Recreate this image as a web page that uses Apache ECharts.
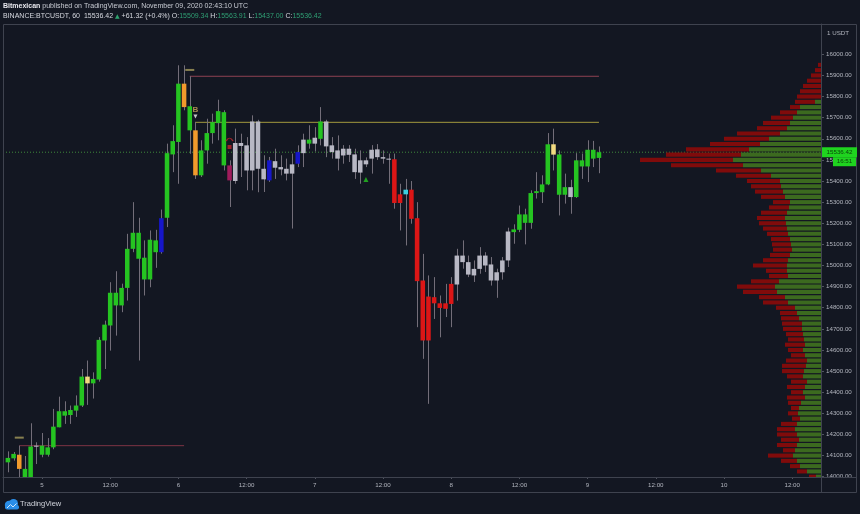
<!DOCTYPE html>
<html><head><meta charset="utf-8">
<script src="https://cdn.jsdelivr.net/npm/echarts@6/dist/echarts.min.js"></script>
<style>html,body{margin:0;padding:0;background:#131722;}#c{width:860px;height:514px;}</style>
</head><body><div id="c"></div><script>
// ---- candle data (hours since Nov 5 00:00 UTC) ----
const hours = [-6,-5,-4,-3,-2,-1,0,1,2,3,4,5,6,7,8,9,10,11,12,13,14,15,16,17,18,19,20,21,22,23,24,25,26,27,28,29,30,31,32,33,34,35,36,37,38,39,40,41,42,43,44,45,46,47,48,49,50,51,52,53,54,55,56,57,58,59,60,61,62,63,64,65,66,67,68,69,70,71,72,73,74,75,76,77,78,79,80,81,82,83,84,85,86,87,88,89,90,91,92,93,94,95,96,97,98];
const opens = [14068,14087,14104,13995,13990,14142,14104,14104,14139,14234,14289,14292,14313,14337,14474,14442,14460,14645,14716,14811,14811,14894,15079,15032,14934,14934,15063,15224,15226,15526,15585,15861,15640,15640,15427,15545,15627,15674,15474,15474,15400,15580,15569,15450,15682,15458,15498,15463,15466,15458,15435,15537,15532,15577,15605,15600,15682,15569,15545,15521,15553,15526,15440,15498,15506,15550,15513,15506,15503,15337,15337,15359,15224,14929,14853,14850,14821,14821,14913,14910,15047,15016,14953,14984,15047,15005,14929,14968,15024,15158,15169,15242,15202,15343,15347,15384,15574,15526,15335,15371,15324,15469,15469,15548,15509.34];
const closes = [14089,14108,14037,14037,14143,14147,14147,14139,14237,14310,14310,14316,14337,14474,14442,14463,14648,14720,14871,14871,14894,15079,15155,15155,15037,15122,15119,15063,15532,15589,15861,15750,15754,15427,15545,15627,15679,15731,15726,15403,15580,15566,15450,15682,15458,15408,15403,15494,15455,15435,15479,15482,15596,15596,15577,15682,15564,15537,15506,15553,15524,15442,15498,15479,15548,15513,15506,15501,15296,15296,15359,15221,14926,14645,14645,14821,14799,14795,14818,15047,15016,14957,14984,15047,15000,14929,14968,15024,15161,15171,15242,15202,15343,15352,15384,15574,15525,15335,15371,15324,15498,15498,15548,15506,15536.42];
const lows = [14021,14076,13990,13990,13985,14060,14092,14095,14130,14234,14250,14250,14283,14330,14340,14370,14450,14510,14597,14668,14779,14834,15063,14550,14858,14897,14989,15056,15182,15442,15387,15735,15529,15410,15419,15482,15577,15593,15450,15277,15387,15419,15356,15356,15347,15348,15396,15410,15427,15403,15175,15466,15466,15553,15540,15569,15513,15506,15450,15482,15490,15410,15387,15466,15435,15500,15482,15387,15269,15166,15095,15198,14708,14558,14345,14747,14660,14756,14708,14834,14985,14945,14922,14961,14969,14905,14847,14933,14993,15103,15158,15100,15174,15317,15296,15380,15450,15237,15293,15245,15320,15410,15395,15466,15437];
const highs = [14120,14117,14147,14098,14253,14163,14207,14183,14321,14379,14357,14337,14385,14510,14550,14494,14661,14739,14921,14973,14914,15150,15300,15226,15119,15166,15169,15265,15577,15664,15948,15948,15896,15680,15593,15695,15719,15785,15735,15498,15648,15624,15608,15711,15690,15522,15514,15553,15522,15506,15530,15569,15624,15664,15655,15750,15690,15608,15616,15570,15570,15553,15545,15512,15570,15575,15545,15530,15530,15387,15410,15400,15300,15055,14953,14945,14858,14913,14945,15079,15119,15047,15024,15087,15063,15040,14985,15040,15179,15195,15284,15269,15356,15442,15427,15627,15648,15545,15435,15406,15532,15530,15593,15590,15563.91];
const candleColors = ['G','G','O','G','G','W','G','G','G','G','G','G','G','G','Y','G','G','G','G','G','G','G','G','G','G','G','G','B','G','G','G','O','G','O','G','G','G','G','G','M','W','W','W','W','W','W','B','W','W','W','W','B','W','G','W','G','W','W','W','W','W','W','W','W','W','W','W','W','R','R','C','R','R','R','R','R','R','R','R','W','W','W','W','W','W','W','W','W','W','G','G','G','G','G','G','G','Y','G','G','W','G','G','G','G','G'];

// ---- volume profile rows (price, up volume, down volume) ----
const profilePrices = [15950,15925,15900,15875,15850,15825,15800,15775,15750,15725,15700,15675,15650,15625,15600,15575,15550,15525,15500,15475,15450,15425,15400,15375,15350,15325,15300,15275,15250,15225,15200,15175,15150,15125,15100,15075,15050,15025,15000,14975,14950,14925,14900,14875,14850,14825,14800,14775,14750,14725,14700,14675,14650,14625,14600,14575,14550,14525,14500,14475,14450,14425,14400,14375,14350,14325,14300,14275,14250,14225,14200,14175,14150,14125,14100,14075,14050,14025,14000];
const upVol = [0,0,0,0,0,0,0,6,21,24,28,31,34,41,52,61,72,80,88,78,60,50,41,40,38,36,31,32,34,36,35,34,33,31,30,29,31,33,34,34,33,42,46,44,36,33,26,24,22,19,19,18,17,16,18,16,14,15,17,18,14,16,18,16,20,22,23,21,24,26,24,22,24,26,28,24,21,14,5];
const downVol = [3,6,10,14,18,21,24,20,10,17,22,27,30,43,45,50,63,75,93,72,45,35,33,30,28,24,17,20,26,28,27,24,21,19,19,19,20,25,34,21,19,28,38,34,26,25,19,17,18,20,19,17,16,20,15,14,21,24,22,16,16,18,12,18,13,8,10,8,16,18,20,18,20,12,25,16,10,10,7];
const PROFILE_STEP = 25;

// ---- levels & annotations ----
const levelLines = [
  {from: 26, to: 98, price: 15896, color: '#8e4152'},
  {from: 27, to: 98, price: 15678, color: '#a39a3e'},
  {from: -4, to: 25, price: 14147, color: '#7c3444'}
];
const lastClose = 15536.42;

// ---- axis ticks ----
const xTickHours = [0,12,24,36,48,60,72,84,96,108,120,132];
const xTickLabels = ['5','12:00','6','12:00','7','12:00','8','12:00','9','12:00','10','12:00'];
const yTickValues = [14000,14100,14200,14300,14400,14500,14600,14700,14800,14900,15000,15100,15200,15300,15400,15500,15600,15700,15800,15900,16000];

const X_MIN = -6.862, X_MAX = 137.07, Y_MIN = 13998.6, Y_MAX = 16143.5;
const PALETTE = {G:'#25c421', O:'#f19a2c', W:'#b8b8c4', B:'#1616c9', R:'#dc1616', Y:'#f1da80', C:'#3ccfe0', M:'#a01c5c'};
const WICK = '#736e79';
const FONT = 'Liberation Sans';

const chart = echarts.init(document.getElementById('c'), null, {renderer: 'canvas'});

function clipOf(params) {
  const cs = params.coordSys;
  return {type: 'rect', shape: {x: cs.x, y: cs.y, width: cs.width, height: cs.height}};
}

function renderCandle(params, api) {
  const x = api.value(0), o = api.value(1), c = api.value(2), lo = api.value(3), hi = api.value(4);
  const col = PALETTE[candleColors[params.dataIndex]];
  const pTop = api.coord([x, Math.max(o, c)]);
  const pBot = api.coord([x, Math.min(o, c)]);
  const pHi = api.coord([x, hi]);
  const pLo = api.coord([x, lo]);
  const w = api.size([1, 0])[0] * 0.8;
  const bh = Math.max(1, pBot[1] - pTop[1]);
  const cx = Math.round(pHi[0]) + 0.5;
  return {type: 'group', clipPath: clipOf(params), children: [
    {type: 'line', shape: {x1: cx, y1: pHi[1], x2: cx, y2: pLo[1]}, style: {stroke: WICK, lineWidth: 1}},
    {type: 'rect', shape: {x: pTop[0] - w / 2, y: pTop[1], width: w, height: bh}, style: {fill: col}}
  ]};
}

function renderProfile(params, api) {
  const p = api.value(0), up = api.value(1), dn = api.value(2);
  const rowPx = Math.abs(api.size([0, PROFILE_STEP])[1]);
  const y = api.coord([0, p])[1];
  const x0 = api.coord([0, p])[0];
  const x1 = api.coord([up, p])[0];
  const x2 = api.coord([up + dn, p])[0];
  const hgt = Math.max(1, rowPx - 1.2);
  return {type: 'group', clipPath: clipOf(params), children: [
    {type: 'rect', shape: {x: x2, y: y - hgt / 2, width: x1 - x2, height: hgt}, style: {fill: '#800b0b'}},
    {type: 'rect', shape: {x: x1, y: y - hgt / 2, width: x0 - x1, height: hgt}, style: {fill: '#3c6a1f'}}
  ]};
}

const levelSeries = levelLines.map(l => ({
  type: 'line', xAxisIndex: 0, yAxisIndex: 0, symbol: 'none', silent: true, z: 2,
  data: [[l.from, l.price], [l.to, l.price]],
  lineStyle: {color: l.color, width: 1}
}));

const option = {
  backgroundColor: '#131722',
  animation: false,
  grid: {left: 3, top: 24, right: 39, bottom: 37, containLabel: false},
  xAxis: [
    {type: 'value', gridIndex: 0, min: X_MIN, max: X_MAX, position: 'bottom',
     axisLine: {show: true, onZero: false, lineStyle: {color: '#3f434f'}},
     axisTick: {show: true, customValues: xTickHours, length: 2, lineStyle: {color: '#50545f'}},
     axisLabel: {show: true, customValues: xTickHours, color: '#b2b5be', fontSize: 6.2, fontFamily: FONT, margin: 5,
       formatter: v => xTickLabels[xTickHours.indexOf(Math.round(v))] || ''},
     splitLine: {show: false}},
    {type: 'value', gridIndex: 0, min: 0, max: 818, inverse: true, show: false}
  ],
  yAxis: [
    {type: 'value', gridIndex: 0, min: Y_MIN, max: Y_MAX, position: 'right',
     axisLine: {show: true, onZero: false, lineStyle: {color: '#3f434f'}},
     axisTick: {show: true, customValues: yTickValues, length: 3, lineStyle: {color: '#50545f'}},
     axisLabel: {show: true, customValues: yTickValues, color: '#b2b5be', fontSize: 6.2, fontFamily: FONT, margin: 5,
       formatter: v => v.toFixed(2)},
     splitLine: {show: false}}
  ],
  series: [
    {type: 'line', symbol: 'none', silent: true, z: 1,
     data: [[X_MIN, lastClose], [X_MAX, lastClose]],
     lineStyle: {color: '#3f8a3a', width: 1, type: [1, 2]}},
    {type: 'custom', xAxisIndex: 1, yAxisIndex: 0, z: 2, silent: true,
     renderItem: renderProfile, encode: {x: [1, 2], y: 0},
     data: profilePrices.map((p, i) => [p, upVol[i], downVol[i]])},
    ...levelSeries,
    {type: 'custom', xAxisIndex: 0, yAxisIndex: 0, z: 4, silent: true,
     renderItem: renderCandle, encode: {x: 0, y: [1, 2, 3, 4]},
     data: hours.map((h, i) => [h, opens[i], closes[i], lows[i], highs[i]])},
    {type: 'scatter', z: 5, silent: true, symbol: 'rect', symbolSize: [9, 2],
     itemStyle: {color: '#a59b5c'}, data: [[-4, 14185], [26, 15926]]},
    {type: 'scatter', z: 5, silent: true, symbolSize: 0,
     label: {show: true, formatter: 'B', color: '#cfa95c', fontSize: 8, fontWeight: 'bold', fontFamily: FONT, position: 'inside'},
     data: [[27, 15737]]},
    {type: 'scatter', z: 5, silent: true, symbol: 'triangle', symbolRotate: 180, symbolSize: 4,
     itemStyle: {color: '#f2f2f2'}, data: [[27, 15706]]},
    {type: 'scatter', z: 5, silent: true, symbol: 'rect', symbolSize: 4,
     itemStyle: {color: '#c0262a'}, data: [[33, 15561]]},
    {type: 'scatter', z: 5, silent: true, symbol: 'path://M0 8 Q 10 -4 20 8', symbolSize: [7, 3],
     itemStyle: {color: 'rgba(0,0,0,0)', borderColor: '#c0262a', borderWidth: 1}, data: [[33, 15596]]},
    {type: 'scatter', z: 5, silent: true, symbol: 'triangle', symbolSize: 5,
     itemStyle: {color: '#25c421'}, data: [[57, 15407]]}
  ]
};
chart.setOption(option);

const yPx = chart.convertToPixel({yAxisIndex: 0}, lastClose);
const frameCol = '#3f434f';
chart.setOption({graphic: [
  {type: 'rect', z: 100, silent: true, shape: {x: 3.5, y: 24.5, width: 853, height: 468}, style: {fill: null, stroke: frameCol, lineWidth: 1}},
  {type: 'line', z: 100, silent: true, shape: {x1: 821.5, y1: 24, x2: 821.5, y2: 493}, style: {stroke: frameCol, lineWidth: 1}},
  {type: 'line', z: 100, silent: true, shape: {x1: 3, y1: 477.5, x2: 857, y2: 477.5}, style: {stroke: frameCol, lineWidth: 1}},
  {type: 'text', z: 100, silent: true, x: 827, y: 30, style: {text: '1 USDT', fill: '#b2b5be', fontSize: 6.2, fontFamily: FONT}},
  {type: 'rect', z: 100, silent: true, shape: {x: 822, y: yPx - 5, width: 35, height: 10}, style: {fill: '#1fd41f'}},
  {type: 'text', z: 101, silent: true, x: 839.5, y: yPx, style: {text: lastClose.toFixed(2), fill: '#0b430b', fontSize: 6.2, fontFamily: FONT, align: 'center', verticalAlign: 'middle'}},
  {type: 'rect', z: 100, silent: true, shape: {x: 833, y: yPx + 5, width: 23, height: 9}, style: {fill: '#1fd41f'}},
  {type: 'text', z: 101, silent: true, x: 844.5, y: yPx + 9.5, style: {text: '16:51', fill: '#0b430b', fontSize: 6.2, fontFamily: FONT, align: 'center', verticalAlign: 'middle'}},
  {type: 'text', z: 100, silent: true, x: 3, y: 3, style: {
    text: '{b|Bitmexican} published on TradingView.com, November 09, 2020 02:43:10 UTC',
    fill: '#c9ccd4', fontSize: 7, fontFamily: FONT,
    rich: {b: {fontWeight: 'bold', fill: '#e8e8ee', fontSize: 7, fontFamily: FONT}}}},
  {type: 'text', z: 100, silent: true, x: 3, y: 12.5, style: {
    text: '{w|BINANCE:BTCUSDT, 60  15536.42 }{g|▲}{w| +61.32 (+0.4%) O:}{v|15509.34}{w| H:}{v|15563.91}{w| L:}{v|15437.00}{w| C:}{v|15536.42}',
    fill: '#d1d4dc', fontSize: 7, fontFamily: FONT,
    rich: {w: {fill: '#d6d8df', fontSize: 7, fontFamily: FONT},
           g: {fill: '#2fa36f', fontSize: 6, fontFamily: 'DejaVu Sans'},
           v: {fill: '#2f9f74', fontSize: 7, fontFamily: FONT}}}},
  {type: 'group', z: 100, silent: true, x: 3, y: 498, children: [
    {type: 'circle', shape: {cx: 6, cy: 7, r: 4.2}, style: {fill: '#2a8ee8'}},
    {type: 'circle', shape: {cx: 10.5, cy: 5.5, r: 4.5}, style: {fill: '#2a8ee8'}},
    {type: 'rect', shape: {x: 2, y: 7, width: 14, height: 4.5, r: 2}, style: {fill: '#2a8ee8'}},
    {type: 'polyline', shape: {points: [[4, 10], [7.5, 6.5], [10, 9], [13.5, 5.5]]}, style: {stroke: '#cfe6fb', lineWidth: 1, fill: null}}
  ]},
  {type: 'text', z: 100, silent: true, x: 20, y: 504, style: {text: 'TradingView', fill: '#d1d4dc', fontSize: 7.5, fontFamily: FONT, verticalAlign: 'middle'}}
]});
</script></body></html>
